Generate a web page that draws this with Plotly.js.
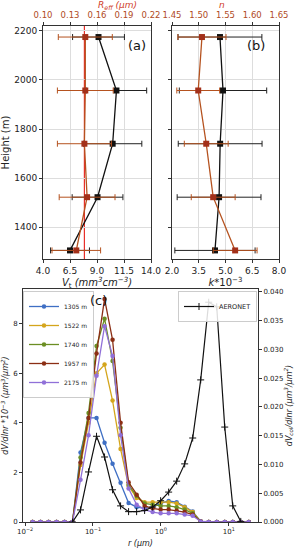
<!DOCTYPE html>
<html><head><meta charset="utf-8">
<script src="https://cdn.plot.ly/plotly-3.0.1.min.js"></script>
<style>html,body{margin:0;padding:0;background:#fff}#chart{width:297px;height:550px}</style>
</head><body><div id="chart"></div>
<script>
// ---- Panels (a) and (b): vertical profiles ----
const heights = [1305, 1522, 1740, 1957, 2175];
const volConc = [6.5, 9.05, 10.45, 10.8, 9.14];
const volConcErr = [1.8, 2.35, 2.7, 2.8, 2.4];
const reff = [0.137, 0.149, 0.146, 0.147, 0.147];
const reffErr = [0.027, 0.031, 0.030, 0.031, 0.030];
const aeronetReff = 0.146;
const kImag = [4.41, 4.64, 4.70, 4.86, 4.69];
const kImagErr = [2.25, 2.35, 2.35, 2.45, 2.35];
const nReal = [1.568, 1.527, 1.514, 1.499, 1.506];
const nRealErr = [0.041, 0.041, 0.041, 0.040, 0.045];

// ---- Panel (c): size distributions ----
const radiusLidar = [0.0129, 0.0169, 0.0222, 0.0291, 0.0382, 0.05, 0.0656, 0.0861, 0.1129, 0.1482, 0.1944, 0.2551, 0.3347, 0.4392, 0.5762, 0.7561, 0.992, 1.3016, 1.7078, 2.2407, 2.94, 3.8575, 5.0613, 6.6407, 8.7131, 11.4323, 15.0, 19.68];
const lidarLabels = ['1305 m', '1522 m', '1740 m', '1957 m', '2175 m'];
const dv1305 = [0,0,0,0,0,0, 2.8,4.2,4.2,3.2,2.35,1.58,0.77,0.6,0.55,0.6,0.75,0.85,0.8,0.62,0.42,0.02, 0,0,0,0,0,0];
const dv1522 = [0,0,0,0,0,0, 2.3,4.0,6.0,6.35,4.9,2.95,1.45,0.97,0.8,0.8,0.8,0.8,0.75,0.6,0.4,0.02, 0,0,0,0,0,0];
const dv1740 = [0,0,0,0,0,0, 2.6,4.4,7.1,8.2,6.5,3.8,1.5,1.05,0.75,0.7,0.65,0.65,0.6,0.5,0.35,0.02, 0,0,0,0,0,0];
const dv1957 = [0,0,0,0,0,0, 2.4,4.2,6.8,9.0,7.35,4.0,1.6,1.1,0.65,0.55,0.5,0.5,0.45,0.4,0.3,0.02, 0,0,0,0,0,0];
const dv2175 = [0,0,0,0,0,0, 1.7,3.5,5.9,7.9,6.7,3.5,1.35,0.7,0.5,0.4,0.35,0.35,0.35,0.3,0.25,0.02, 0,0,0,0,0,0];
const lidarColors = ['#3f6fc4', '#d4a51c', '#6b8e23', '#8b2e14', '#9070d8'];
const radiusAeronet = [0.05, 0.0656, 0.0861, 0.1129, 0.1482, 0.1944, 0.2551, 0.3347, 0.4392, 0.5762, 0.7561, 0.992, 1.3016, 1.7078, 2.2407, 2.94, 3.8575, 5.0613, 6.6407, 8.7131, 11.4323, 15.0];
const dvAeronet = [0, 0.0021, 0.0087, 0.0149, 0.0113, 0.0056, 0.0028, 0.0018, 0.0018, 0.0020, 0.0026, 0.0037, 0.0052, 0.0071, 0.0101, 0.0146, 0.0247, 0.0382, 0.0374, 0.0165, 0.0028, 0.0001];

const xTicksV = [4, 6.5, 9, 11.5, 14];
const xTicksReff = [0.10, 0.13, 0.16, 0.19, 0.22];
const xTicksK = [2, 3.5, 5, 6.5, 8];
const xTicksN = [1.45, 1.50, 1.55, 1.60, 1.65];
const yTicksH = [1400, 1600, 1800, 2000, 2200];
const xTicksR = [0.01, 0.1, 1, 10];
const xTickTextR = ['10<sup>−2</sup>', '10<sup>−1</sup>', '10<sup>0</sup>', '10<sup>1</sup>'];
const yTicksLeft = [0, 2, 4, 6, 8];
const yTicksRight = [0, 0.005, 0.010, 0.015, 0.020, 0.025, 0.030, 0.035, 0.040];

const brownLine = '#b5521f';
const brownMark = '#a3301a';
const redTitle = '#d0402a';
const tickRed = '#b04a25';

const dvSeries = [dv1305, dv1522, dv1740, dv1957, dv2175];

const traces = [];
// panel a
traces.push({x: volConc, y: heights, xaxis: 'x', yaxis: 'y', type: 'scatter', mode: 'lines+markers',
  line: {color: '#111', width: 1.3}, marker: {symbol: 'square', size: 6, color: '#111'},
  error_x: {type: 'data', array: volConcErr, color: '#222', thickness: 1, width: 3}, showlegend: false});
traces.push({x: reff, y: heights, xaxis: 'x2', yaxis: 'y', type: 'scatter', mode: 'lines+markers',
  line: {color: brownLine, width: 1.3}, marker: {symbol: 'square', size: 6, color: brownMark},
  error_x: {type: 'data', array: reffErr, color: brownLine, thickness: 1, width: 3}, showlegend: false});
// panel b
traces.push({x: kImag, y: heights, xaxis: 'x3', yaxis: 'y2', type: 'scatter', mode: 'lines+markers',
  line: {color: '#111', width: 1.3}, marker: {symbol: 'square', size: 6, color: '#111'},
  error_x: {type: 'data', array: kImagErr, color: '#222', thickness: 1, width: 3}, showlegend: false});
traces.push({x: nReal, y: heights, xaxis: 'x4', yaxis: 'y2', type: 'scatter', mode: 'lines+markers',
  line: {color: brownLine, width: 1.3}, marker: {symbol: 'square', size: 6, color: brownMark},
  error_x: {type: 'data', array: nRealErr, color: brownLine, thickness: 1, width: 3}, showlegend: false});
// panel c
dvSeries.forEach((s, i) => {
  traces.push({x: radiusLidar, y: s, xaxis: 'x5', yaxis: 'y3', type: 'scatter', mode: 'lines+markers',
    name: lidarLabels[i], legend: 'legend',
    line: {color: lidarColors[i], width: 1.3}, marker: {symbol: 'circle', size: 4.5, color: lidarColors[i]}});
});
traces.push({x: radiusAeronet, y: dvAeronet, xaxis: 'x5', yaxis: 'y4', type: 'scatter', mode: 'lines+markers',
  name: 'AERONET', legend: 'legend2',
  line: {color: '#111', width: 1.2}, marker: {symbol: 'cross-thin', size: 5, line: {color: '#111', width: 1}}});

const axBase = {showline: true, linecolor: '#333', linewidth: 1, ticks: 'outside', ticklen: 3, tickcolor: '#333',
  zeroline: false, tickfont: {size: 9, color: '#222'}};
const domA = [43/297, 151/297], domB = [172/297, 279/297], domYtop = [1 - 259/550, 1 - 26/550];
const domC = [23/297, 258/297], domYc = [1 - 522/550, 1 - 289/550];

const layout = {
  width: 297, height: 550, margin: {l: 0, r: 0, t: 0, b: 0},
  paper_bgcolor: '#fff', plot_bgcolor: '#fff',
  font: {family: 'DejaVu Sans', size: 9, color: '#222'},
  xaxis: Object.assign({}, axBase, {domain: domA, anchor: 'y', range: [4, 14], tickvals: xTicksV, tickformat: '.1f',
    showgrid: true, gridcolor: '#dddddd',
    title: {text: '<i>V</i><sub>t</sub> <i>(mm<sup>3</sup>cm<sup>−3</sup>)</i>', font: {size: 10}, standoff: 2}}),
  xaxis2: Object.assign({}, axBase, {overlaying: 'x', side: 'top', anchor: 'y', range: [0.10, 0.22], tickvals: xTicksReff, tickformat: '.2f',
    showgrid: false, tickfont: {size: 8.5, color: tickRed}, ticklabelstandoff: 1}),
  yaxis: Object.assign({}, axBase, {domain: domYtop, anchor: 'x', range: [1270, 2220], tickvals: yTicksH, mirror: true,
    showgrid: true, gridcolor: '#dddddd', title: {text: 'Height (m)', font: {size: 10}, standoff: 4}}),
  xaxis3: Object.assign({}, axBase, {domain: domB, anchor: 'y2', range: [2, 8], tickvals: xTicksK, tickformat: '.1f',
    showgrid: true, gridcolor: '#dddddd',
    title: {text: '<i>k</i>*10<sup>−3</sup>', font: {size: 10}, standoff: 2}}),
  xaxis4: Object.assign({}, axBase, {overlaying: 'x3', side: 'top', anchor: 'y2', range: [1.45, 1.65], tickvals: xTicksN, tickformat: '.2f',
    showgrid: false, tickfont: {size: 8.5, color: tickRed}, ticklabelstandoff: 1}),
  yaxis2: Object.assign({}, axBase, {domain: domYtop, anchor: 'x3', matches: 'y', range: [1270, 2220], tickvals: yTicksH, mirror: true,
    showticklabels: false, showgrid: true, gridcolor: '#dddddd'}),
  xaxis5: Object.assign({}, axBase, {domain: domC, anchor: 'y3', type: 'log', range: [-2.03, 1.43], tickvals: xTicksR, ticktext: xTickTextR,
    mirror: true, showgrid: false, tickfont: {size: 7}, title: {text: '<i>r (μm)</i>', font: {size: 8}, standoff: 4}}),
  yaxis3: Object.assign({}, axBase, {domain: domYc, anchor: 'x5', range: [0, 9.4], tickvals: yTicksLeft, showgrid: false,
    tickfont: {size: 7},
    title: {text: '<i>dV/dlnr *10<sup>−3</sup> (μm<sup>3</sup>/μm<sup>2</sup>)</i>', font: {size: 8}, standoff: 3}}),
  yaxis4: Object.assign({}, axBase, {overlaying: 'y3', side: 'right', anchor: 'x5', range: [0, 0.0405], tickvals: yTicksRight, tickformat: '.3f',
    showgrid: false, tickfont: {size: 7},
    title: {text: '<i>dV<sub>col</sub>/dlnr (μm<sup>3</sup>/μm<sup>2</sup>)</i>', font: {size: 8}, standoff: 3}}),
  legend: {x: 23/297, y: 1 - 291/550, xanchor: 'left', yanchor: 'top', bgcolor: 'rgba(255,255,255,0.85)',
    bordercolor: '#cccccc', borderwidth: 1, font: {size: 6}, itemwidth: 30, tracegroupgap: 0},
  legend2: {x: 257/297, y: 1 - 291/550, xanchor: 'right', yanchor: 'top', bgcolor: 'rgba(255,255,255,0.85)',
    bordercolor: '#cccccc', borderwidth: 1, font: {size: 6.5}, itemwidth: 30},
  shapes: [{type: 'line', xref: 'x2', yref: 'y domain', x0: aeronetReff, x1: aeronetReff, y0: 0, y1: 1,
    line: {color: '#e8302a', width: 1.2}, layer: 'below'}],
  annotations: [
    {text: '<i>R</i><sub><i>eff</i></sub> <i>(μm)</i>', xref: 'paper', yref: 'paper', x: 97/297, y: 1 + 1/550, yanchor: 'top', borderpad: 0,
      showarrow: false, font: {size: 9, color: redTitle}},
    {text: '<i>n</i>', xref: 'paper', yref: 'paper', x: 226/297, y: 1 + 1/550, yanchor: 'top', borderpad: 0,
      showarrow: false, font: {size: 9, color: redTitle}},
    {text: '(a)', xref: 'paper', yref: 'paper', x: 137/297, y: 1 - 36/550, showarrow: false, font: {size: 13, color: '#111'}},
    {text: '(b)', xref: 'paper', yref: 'paper', x: 267/297, y: 1 - 36/550, showarrow: false, font: {size: 13, color: '#111'}},
    {text: '(c)', xref: 'paper', yref: 'paper', x: 88/297, y: 1 - 300/550, showarrow: false, font: {size: 13, color: '#111'}}
  ]
};

Plotly.newPlot('chart', traces, layout, {staticPlot: true, displayModeBar: false});
</script>
</body></html>
